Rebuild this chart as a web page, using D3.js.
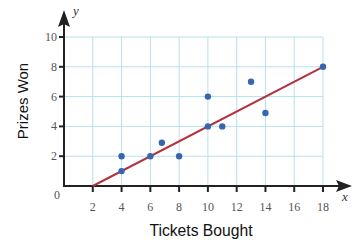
<!DOCTYPE html>
<html>
<head>
<meta charset="utf-8">
<script src="https://cdn.jsdelivr.net/npm/d3@7"></script>
<style>
    body { margin: 0; background: #fff; }
    svg { display: block; }
</style>
</head>
<body>
<div id="chart"></div>
<script>
const xTicks = [2, 4, 6, 8, 10, 12, 14, 16, 18]
const yTicks = [2, 4, 6, 8, 10]
const gridX = [0, 2, 4, 6, 8, 10, 12, 14, 16, 18]
const gridY = [0, 2, 4, 6, 8, 10]
const ticketsBought = [4, 4, 6, 6.8, 8, 10, 10, 11, 13, 14, 18]
const prizesWon = [1, 2, 2, 2.9, 2, 4, 6, 4, 7, 4.9, 8]
const fitLine = [[2, 0], [18, 8]]

const width = 360, height = 243

const svg = d3.select('#chart').append('svg')
    .attr('width', width)
    .attr('height', height)

const x = d3.scaleLinear().domain([0, 18]).range([64, 323])
const y = d3.scaleLinear().domain([0, 10]).range([186, 37])

// grid
const grid = svg.append('g').attr('stroke', '#b9e0ea').attr('stroke-width', 1)
grid.selectAll('.gx').data(gridX).join('line')
    .attr('x1', d => x(d)).attr('x2', d => x(d))
    .attr('y1', y(0)).attr('y2', y(10))
grid.selectAll('.gy').data(gridY).join('line')
    .attr('x1', x(0)).attr('x2', x(18))
    .attr('y1', d => y(d)).attr('y2', d => y(d))

// axes
const axisColor = '#222'
svg.append('line')
    .attr('x1', x(0)).attr('x2', 342)
    .attr('y1', y(0)).attr('y2', y(0))
    .attr('stroke', axisColor).attr('stroke-width', 2)
svg.append('path')
    .attr('d', `M352,${y(0)} L336,${y(0) - 6} L339,${y(0)} L336,${y(0) + 6} Z`)
    .attr('fill', axisColor)
svg.append('line')
    .attr('x1', x(0)).attr('x2', x(0))
    .attr('y1', y(0) + 1).attr('y2', 20)
    .attr('stroke', axisColor).attr('stroke-width', 2)
svg.append('path')
    .attr('d', `M${x(0)},10 L${x(0) - 6},27 L${x(0)},24 L${x(0) + 6},27 Z`)
    .attr('fill', axisColor)

svg.append('g').selectAll('line').data(xTicks).join('line')
    .attr('x1', d => x(d)).attr('x2', d => x(d))
    .attr('y1', y(0)).attr('y2', y(0) + 6)
    .attr('stroke', axisColor).attr('stroke-width', 2)
svg.append('g').selectAll('line').data(yTicks).join('line')
    .attr('x1', x(0) - 5).attr('x2', x(0))
    .attr('y1', d => y(d)).attr('y2', d => y(d))
    .attr('stroke', axisColor).attr('stroke-width', 2)

const serif = '"Liberation Serif", "DejaVu Serif", serif'
svg.append('g').selectAll('text').data(xTicks).join('text')
    .attr('x', d => x(d)).attr('y', 211)
    .attr('text-anchor', 'middle')
    .attr('font-family', serif).attr('font-size', 12).attr('fill', '#555')
    .text(d => d)
svg.append('g').selectAll('text').data(yTicks).join('text')
    .attr('x', x(0) - 7).attr('y', d => y(d) + 4)
    .attr('text-anchor', 'end')
    .attr('font-family', serif).attr('font-size', 12).attr('fill', '#555')
    .text(d => d)
svg.append('text')
    .attr('x', 60).attr('y', 199)
    .attr('text-anchor', 'end')
    .attr('font-family', serif).attr('font-size', 12).attr('fill', '#555')
    .text('0')

svg.append('text').attr('x', 73).attr('y', 15)
    .attr('font-family', serif).attr('font-style', 'italic').attr('font-size', 13).attr('fill', '#333')
    .text('y')
svg.append('text').attr('x', 342).attr('y', 201)
    .attr('font-family', serif).attr('font-style', 'italic').attr('font-size', 13).attr('fill', '#333')
    .text('x')

const sans = '"Liberation Sans", Arial, sans-serif'
svg.append('text')
    .attr('x', 201).attr('y', 236)
    .attr('text-anchor', 'middle')
    .attr('font-family', sans).attr('font-size', 15.7).attr('fill', '#111')
    .text('Tickets Bought')
svg.append('text')
    .attr('transform', 'translate(28,101) rotate(-90)')
    .attr('text-anchor', 'middle')
    .attr('font-family', sans).attr('font-size', 15).attr('fill', '#111')
    .text('Prizes Won')

// fit line
svg.append('path')
    .datum(fitLine)
    .attr('d', d3.line().x(d => x(d[0])).y(d => y(d[1])))
    .attr('stroke', '#b3323f').attr('stroke-width', 2).attr('fill', 'none')

// points
svg.append('g').selectAll('circle').data(ticketsBought).join('circle')
    .attr('cx', d => x(d))
    .attr('cy', (d, i) => y(prizesWon[i]))
    .attr('r', 3.2)
    .attr('fill', '#3566b0')
</script>
</body>
</html>
